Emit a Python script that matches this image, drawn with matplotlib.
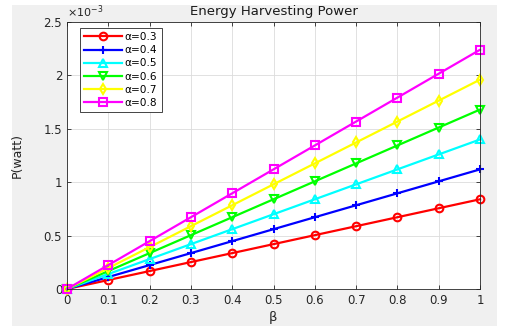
import matplotlib
matplotlib.use("Agg")
import matplotlib.pyplot as plt
from matplotlib.patches import Rectangle

beta = [0, 0.1, 0.2, 0.3, 0.4, 0.5, 0.6, 0.7, 0.8, 0.9, 1.0]
p_a03 = [0, 0.084, 0.168, 0.252, 0.336, 0.420, 0.504, 0.588, 0.672, 0.756, 0.840]
p_a04 = [0, 0.112, 0.224, 0.336, 0.448, 0.560, 0.672, 0.784, 0.896, 1.008, 1.120]
p_a05 = [0, 0.140, 0.280, 0.420, 0.560, 0.700, 0.840, 0.980, 1.120, 1.260, 1.400]
p_a06 = [0, 0.168, 0.336, 0.504, 0.672, 0.840, 1.008, 1.176, 1.344, 1.512, 1.680]
p_a07 = [0, 0.196, 0.392, 0.588, 0.784, 0.980, 1.176, 1.372, 1.568, 1.764, 1.960]
p_a08 = [0, 0.224, 0.448, 0.672, 0.896, 1.120, 1.344, 1.568, 1.792, 2.016, 2.240]
labels = ["α=0.3", "α=0.4", "α=0.5", "α=0.6", "α=0.7", "α=0.8"]
xticks = [0, 0.1, 0.2, 0.3, 0.4, 0.5, 0.6, 0.7, 0.8, 0.9, 1]
xticklabels = ["0", "0.1", "0.2", "0.3", "0.4", "0.5", "0.6", "0.7", "0.8", "0.9", "1"]
yticks = [0, 0.5, 1.0, 1.5, 2.0, 2.5]
yticklabels = ["0", "0.5", "1", "1.5", "2", "2.5"]

series = [p_a03, p_a04, p_a05, p_a06, p_a07, p_a08]
colors = ["#ff0000", "#0000ff", "#00ffff", "#00ff00", "#ffff00", "#ff00ff"]
markers = ["o", "+", "^", "v", "d", "s"]

W, H = 506, 326
fig = plt.figure(figsize=(W / 100, H / 100), dpi=100)
fig.patch.set_facecolor("white")
fig.patches.append(Rectangle((12 / W, 0), (497 - 12) / W, (321) / H,
                             transform=fig.transFigure, facecolor="#f0f0f0",
                             edgecolor="none", zorder=-10))

ax = fig.add_axes([67 / W, 1 - 289 / H, (480 - 67) / W, (289 - 22) / H])
ax.set_facecolor("white")
for ys, c, m, lab in zip(series, colors, markers, labels):
    ax.plot(beta, [v * 1e-3 for v in ys], color=c, marker=m, lw=1.6,
            markersize=5.5, markerfacecolor="none", markeredgecolor=c,
            markeredgewidth=1.5, label=lab, clip_on=False)

ax.set_xlim(0, 1)
ax.set_ylim(0, 2.5e-3)
ax.set_xticks(xticks)
ax.set_xticklabels(xticklabels)
ax.set_yticks([v * 1e-3 for v in yticks])
ax.set_yticklabels(yticklabels)
ax.tick_params(direction="in", top=True, right=True, length=3, labelsize=8.5,
               colors="#262626", labelcolor="#262626", width=0.6)
ax.grid(True, color="#dcdcdc", lw=0.6)
ax.set_axisbelow(True)
for s in ax.spines.values():
    s.set_color("#262626")
    s.set_linewidth(0.6)

ax.set_title("Energy Harvesting Power", fontsize=9.5, color="#1a1a1a", pad=5)
ax.set_xlabel("β", fontsize=9.5, color="#262626", labelpad=3)
ax.set_ylabel("P(watt)", fontsize=9, color="#262626", labelpad=14)
ax.text(0, 1.008, r"$\times10^{-3}$", transform=ax.transAxes, fontsize=8,
        color="#262626", ha="left", va="bottom")

leg = ax.legend(loc="upper left", bbox_to_anchor=(0.031, 0.978), fontsize=7.6,
                handlelength=3.6, handletextpad=0.25, labelspacing=0.3,
                borderpad=0.4, borderaxespad=0, fancybox=False, framealpha=1,
                edgecolor="#262626")
leg.get_frame().set_linewidth(0.6)

fig.savefig("out.png", dpi=100, facecolor="white")
